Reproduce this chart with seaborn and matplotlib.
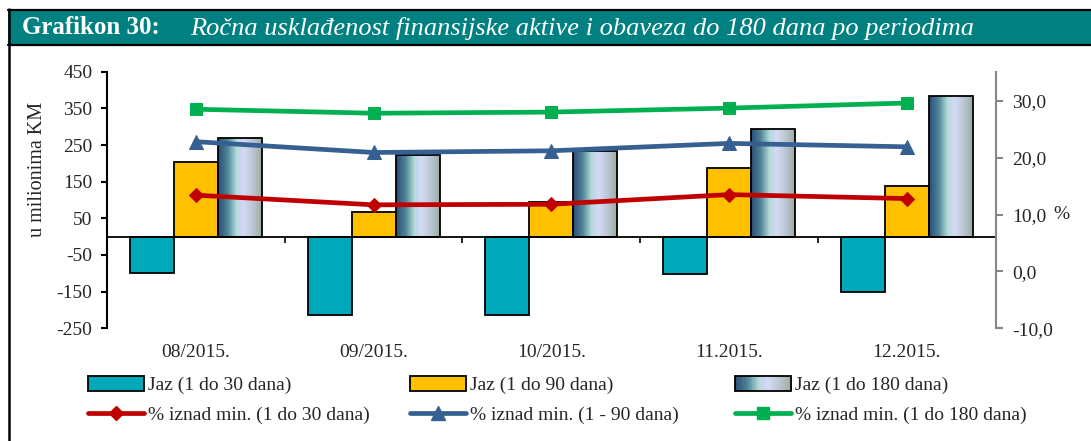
import numpy as np
import pandas as pd
import matplotlib
matplotlib.use("Agg")
import matplotlib.pyplot as plt
import matplotlib.patches as mpatches
from matplotlib.lines import Line2D
from matplotlib.colors import LinearSegmentedColormap
from matplotlib.legend_handler import HandlerBase
import seaborn as sns

# ---------------- data ----------------
periods = ["08/2015.", "09/2015.", "10/2015.", "11.2015.", "12.2015."]
jaz_30 = [-100, -213, -215, -103, -150]
jaz_90 = [204, 67, 95, 188, 138]
jaz_180 = [268, 224, 233, 293, 384]
pct_30 = [13.4, 11.7, 11.8, 13.5, 12.8]
pct_90 = [22.8, 20.9, 21.2, 22.5, 21.9]
pct_180 = [28.5, 27.8, 28.0, 28.7, 29.6]

bar_names = ["Jaz (1 do 30 dana)", "Jaz (1 do 90 dana)", "Jaz (1 do 180 dana)"]
line_names = ["% iznad min. (1 do 30 dana)", "% iznad min. (1 - 90 dana)",
              "% iznad min. (1 do 180 dana)"]
left_ticks = [-250, -150, -50, 50, 150, 250, 350, 450]
right_ticks = [-10, 0, 10, 20, 30]

# ---------------- style ----------------
sns.set_theme(style="white")
plt.rcParams["font.family"] = ["Liberation Serif", "DejaVu Serif"]
plt.rcParams["font.size"] = 11

teal = "#00A9BA"
yellow = "#FFC000"
red = "#C00000"
blue = "#376092"
green = "#00B050"
band = "#008080"
grad_cmap = LinearSegmentedColormap.from_list(
    "cyl", [(0.0, "#2A4E74"), (0.22, "#4F8498"), (0.42, "#B2DCD6"),
            (0.5, "#C6D6EE"), (0.58, "#D4DBF2"), (0.8, "#BAC5D3"),
            (1.0, "#9BAD9E")])

W, H = 1091, 441
fig = plt.figure(figsize=(W / 100, H / 100), dpi=100)

# title band & frame
fig.patches.append(mpatches.Rectangle((8 / W, 1 - 45 / H), 1 - 8 / W, 35 / H,
                                      transform=fig.transFigure, facecolor=band,
                                      edgecolor="none", zorder=0))
fig.add_artist(Line2D([8 / W, 1], [1 - 10 / H, 1 - 10 / H], color="black", lw=1.6,
                      transform=fig.transFigure))
fig.add_artist(Line2D([8 / W, 1], [1 - 44.5 / H, 1 - 44.5 / H], color="black", lw=1.6,
                      transform=fig.transFigure))
fig.add_artist(Line2D([9 / W, 9 / W], [0, 1 - 9 / H], color="black", lw=1.8,
                      transform=fig.transFigure))
fig.text(22 / W, 1 - 28 / H, "Grafikon 30:", color="white", fontsize=18,
         fontweight="bold", va="center", ha="left")
fig.text(190 / W, 1 - 28 / H,
         "Ročna usklađenost finansijske aktive i obaveza do 180 dana po periodima",
         color="white", fontsize=19, fontstyle="italic", va="center", ha="left")

# axes
ax = fig.add_axes([107 / W, 1 - 328.3 / H, (995.7 - 107) / W, (328.3 - 71.7) / H])

df = pd.DataFrame({
    "period": periods * 3,
    "series": sum([[n] * len(periods) for n in bar_names], []),
    "value": jaz_30 + jaz_90 + jaz_180,
})
sns.barplot(data=df, x="period", y="value", hue="series", order=periods,
            hue_order=bar_names, palette=[teal, yellow, "#9FB8C8"], width=0.742,
            saturation=1, edgecolor="black", linewidth=1.3, legend=False, ax=ax,
            zorder=2)

# gradient fill for the 180-day bars
grad = np.linspace(0, 1, 256).reshape(1, -1)
for p in ax.containers[2]:
    x0, y0, w, h = p.get_x(), p.get_y(), p.get_width(), p.get_height()
    p.set_facecolor("none")
    p.set_zorder(3)
    im = ax.imshow(grad, cmap=grad_cmap, extent=[x0, x0 + w, y0, y0 + h],
                   aspect="auto", origin="lower", zorder=2.5, interpolation="bilinear")
    im.set_clip_path(p)

ax.set_xlim(-0.5, len(periods) - 0.5)
ax.set_ylim(-250, 450)
ax.set_yticks(left_ticks)
ax.set_yticklabels([str(t) for t in left_ticks])
ax.set_ylabel("u milionima KM", fontsize=14.5)
ax.yaxis.set_label_coords(-0.068, 0.62)
ax.set_xlabel("")
for s in ["top", "right"]:
    ax.spines[s].set_visible(False)
ax.spines["left"].set_color("black")
ax.spines["left"].set_linewidth(1.5)
ax.spines["bottom"].set_position(("data", 0))
ax.spines["bottom"].set_color("black")
ax.spines["bottom"].set_linewidth(1.3)
ax.spines["bottom"].set_zorder(4)
ax.set_xticks(np.arange(len(periods) - 1) + 0.5)
ax.set_xticklabels([])
ax.tick_params(axis="x", direction="out", length=4, width=1.2, color="black", bottom=True)
ax.tick_params(axis="y", direction="out", length=4.5, width=1.5, color="black",
               left=True, labelsize=14, pad=6)
ax.grid(False)

sec = ax.secondary_xaxis(0)
sec.set_xticks(np.arange(len(periods)))
sec.set_xticklabels(periods)
sec.tick_params(length=0, pad=11, labelsize=14)
sec.spines["bottom"].set_visible(False)

# secondary axis with lines
ax2 = ax.twinx()
xs = np.arange(len(periods))
for vals, col, mk, ms in [(pct_30, red, "D", 7), (pct_90, blue, "^", 10),
                          (pct_180, green, "s", 9)]:
    sns.lineplot(x=xs, y=vals, color=col, marker=mk, markersize=ms, linewidth=3.4,
                 markeredgecolor=col, ax=ax2, legend=False)
ax2.set_ylim(-10, 35.1)
ax2.set_yticks(right_ticks)
ax2.set_yticklabels([f"{t:.1f}".replace(".", ",") for t in right_ticks])
for s in ["top", "left", "bottom"]:
    ax2.spines[s].set_visible(False)
ax2.spines["right"].set_color("#868686")
ax2.spines["right"].set_linewidth(1.5)
ax2.tick_params(axis="y", direction="out", length=5, width=1.5, color="#868686",
                right=True, labelsize=14, pad=7)
ax2.set_ylabel("%", rotation=0, fontsize=14, va="center")
ax2.yaxis.set_label_coords(1.074, 0.443)
ax2.grid(False)
ax.set_xlim(-0.5, len(periods) - 0.5)


# legend
class GradHandler(HandlerBase):
    def create_artists(self, legend, orig_handle, xdescent, ydescent, width, height,
                       fontsize, trans):
        arts = []
        n = 40
        for i in range(n):
            r = mpatches.Rectangle((-xdescent + width * i / n, -ydescent), width / n + 0.3,
                                   height, facecolor=grad_cmap((i + 0.5) / n),
                                   edgecolor="none", transform=trans)
            arts.append(r)
        arts.append(mpatches.Rectangle((-xdescent, -ydescent), width, height,
                                       facecolor="none", edgecolor="black", lw=1.3,
                                       transform=trans))
        return arts


grad_handle = mpatches.Rectangle((0, 0), 1, 1)
cols = [
    (mpatches.Patch(facecolor=teal, edgecolor="black", lw=1.3), bar_names[0],
     Line2D([], [], color=red, lw=3.4, marker="D", ms=7), line_names[0], 88),
    (mpatches.Patch(facecolor=yellow, edgecolor="black", lw=1.3), bar_names[1],
     Line2D([], [], color=blue, lw=3.4, marker="^", ms=10), line_names[1], 410),
    (grad_handle, bar_names[2],
     Line2D([], [], color=green, lw=3.4, marker="s", ms=9), line_names[2], 735),
]
for h1, l1, h2, l2, xpx in cols:
    lg = fig.legend([h1, h2], [l1, l2], loc="upper left",
                    bbox_to_anchor=(xpx / W, 1 - 376 / H), frameon=False, fontsize=14,
                    handlelength=2.9, handleheight=0.8, handletextpad=0.2,
                    labelspacing=0.6, borderpad=0, borderaxespad=0,
                    handler_map={grad_handle: GradHandler()})

fig.savefig("out.png", dpi=100)
